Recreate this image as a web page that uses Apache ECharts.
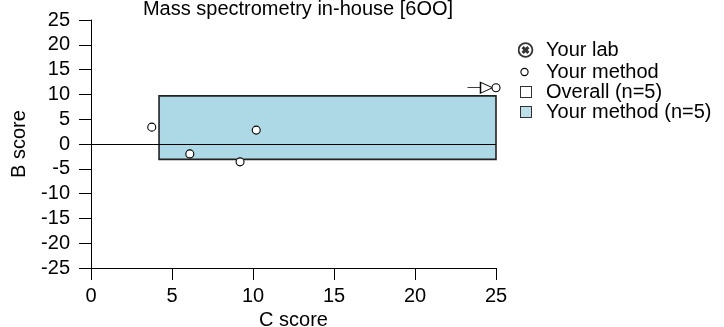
<!DOCTYPE html>
<html>
<head>
<meta charset="utf-8">
<script src="https://cdn.jsdelivr.net/npm/echarts@6/dist/echarts.min.js"></script>
<style>
  html, body { margin: 0; padding: 0; background: #fff; }
  #chart { width: 724px; height: 327px; }
</style>
</head>
<body>
<div id="chart"></div>
<script>
// scores
var xTicks = [0, 5, 10, 15, 20, 25];
var yTicks = [-25, -20, -15, -10, -5, 0, 5, 10, 15, 20, 25];
var methodC = [3.75, 6.1, 9.2, 10.2, 25];
var methodB = [3.4, -2.0, -3.6, 2.8, 11.35];
var methodBoxC = [4.2, 25];
var methodBoxB = [-3.1, 9.7];
var legendNames = ['Your lab', 'Your method', 'Overall (n=5)', 'Your method (n=5)'];

var font = 'Liberation Sans, Arial, Helvetica, sans-serif';
var fs = 20;
var xMax = xTicks[xTicks.length - 1];

// legend icons: 23px wide box so the text lands where the reference has it
function svgIcon(body) {
  return 'image://data:image/svg+xml;utf8,' + encodeURIComponent(
    '<svg xmlns="http://www.w3.org/2000/svg" width="23" height="16" viewBox="0 0 23 16">' + body + '</svg>');
}
var labIcon = svgIcon(
  '<circle cx="7.5" cy="8" r="6.9" fill="#fff" stroke="#000" stroke-width="1.8"/>' +
  '<path d="M4.6 5.1L10.4 10.9M10.4 5.1L4.6 10.9" stroke="#000" stroke-width="3"/>');
var methodIcon = svgIcon('<circle cx="6.5" cy="8" r="3.6" fill="#fff" stroke="#000" stroke-width="1.1"/>');
var overallIcon = svgIcon('<rect x="2.5" y="2.5" width="11" height="11" fill="#fff" stroke="#000" stroke-width="1"/>');
var boxIcon = svgIcon('<rect x="2.5" y="2.5" width="11" height="11" fill="#ADD8E6" stroke="#000" stroke-width="1"/>');

var points = methodC.map(function (c, i) { return [c, methodB[i]]; });
var clipped = points.filter(function (p) { return p[0] >= xMax; });

function legendAt(name, icon, top) {
  return {
    data: [{ name: name, icon: icon }],
    orient: 'vertical', left: 518, top: top, padding: 0,
    itemWidth: 23, itemHeight: 16, itemGap: 0,
    selectedMode: false,
    textStyle: { fontFamily: font, fontSize: fs, color: '#000', lineHeight: 20 }
  };
}

var chart = echarts.init(document.getElementById('chart'));
chart.setOption({
  animation: false,
  backgroundColor: '#fff',
  title: {
    text: 'Mass spectrometry in-house [6OO]',
    left: 293, top: -6, textAlign: 'center',
    textStyle: { fontFamily: font, fontSize: fs, fontWeight: 'normal', color: '#000' }
  },
  legend: [
    legendAt(legendNames[0], labIcon, 40),
    legendAt(legendNames[1], methodIcon, 62),
    legendAt(legendNames[2], overallIcon, 82),
    legendAt(legendNames[3], boxIcon, 102)
  ],
  grid: { left: 91, right: 228, top: 20, bottom: 59, containLabel: false, outerBoundsMode: 'none' },
  xAxis: {
    type: 'value', min: xTicks[0], max: xMax, interval: 5,
    name: 'C score', nameLocation: 'middle', nameGap: 42,
    nameTextStyle: { fontFamily: font, fontSize: fs, color: '#000' },
    axisLine: { onZero: false, lineStyle: { color: '#000', width: 1 } },
    axisTick: { length: 12, lineStyle: { color: '#000' } },
    axisLabel: { margin: 18, fontFamily: font, fontSize: fs, color: '#000' },
    splitLine: { show: false }
  },
  yAxis: {
    type: 'value', min: yTicks[0], max: yTicks[yTicks.length - 1], interval: 5,
    name: 'B score', nameLocation: 'middle', nameGap: 62, nameRotate: 90,
    nameTextStyle: { fontFamily: font, fontSize: fs, color: '#000' },
    axisLine: { onZero: false, lineStyle: { color: '#000', width: 1 } },
    axisTick: { length: 12, lineStyle: { color: '#000' } },
    axisLabel: { margin: 21, fontFamily: font, fontSize: fs, color: '#000' },
    splitLine: { show: false }
  },
  series: [
    { name: legendNames[2], type: 'scatter', data: [] },
    {
      name: legendNames[3], type: 'scatter', data: [], z: 1,
      markArea: {
        silent: true,
        itemStyle: { color: '#ADD8E6', borderColor: '#222', borderWidth: 1.6 },
        data: [[{ coord: [methodBoxC[0], methodBoxB[0]] }, { coord: [methodBoxC[1], methodBoxB[1]] }]]
      }
    },
    {
      name: 'zero', type: 'line', data: [], z: 3,
      markLine: {
        silent: true, symbol: 'none', label: { show: false },
        lineStyle: { color: '#000', width: 1, type: 'solid' },
        data: [{ yAxis: 0 }]
      }
    },
    {
      name: 'clip', type: 'scatter', z: 4, silent: true,
      data: clipped,
      symbol: 'path://M0,5L13,5M13,0L25,5L13,10Z',
      symbolSize: [25, 11], symbolOffset: [-16, 0],
      itemStyle: { color: '#fff', borderColor: '#000', borderWidth: 1, opacity: 1 }
    },
    { name: legendNames[0], type: 'scatter', data: [] },
    {
      name: legendNames[1], type: 'scatter', z: 5, data: points,
      symbol: 'circle', symbolSize: 8,
      itemStyle: { color: '#fff', borderColor: '#000', borderWidth: 1.1, opacity: 1 }
    }
  ]
});
</script>
</body>
</html>
